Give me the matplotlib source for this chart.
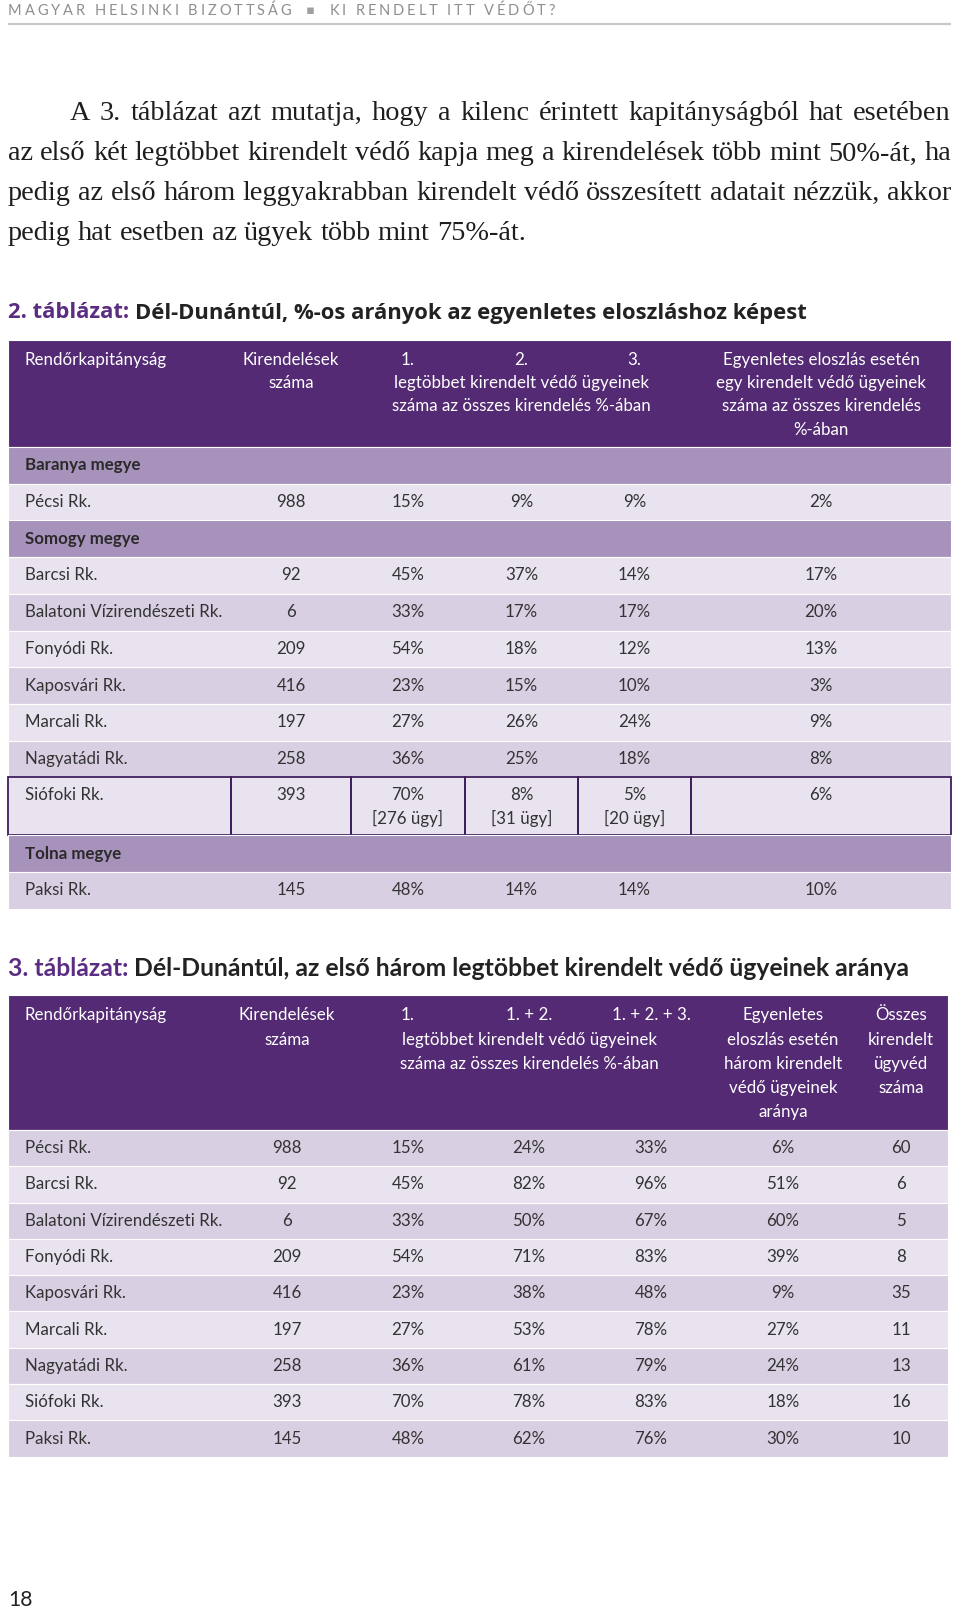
import matplotlib
matplotlib.use('Agg')
import matplotlib.pyplot as plt
from matplotlib.patches import Rectangle

# ---------------- data ----------------
header_left = "MAGYAR HELSINKI BIZOTTSÁG"
header_right = "KI RENDELT ITT VÉDŐT?"
paragraph = [
    "A 3. táblázat azt mutatja, hogy a kilenc érintett kapitányságból hat esetében",
    "az első két legtöbbet kirendelt védő kapja meg a kirendelések több mint 50%-át, ha",
    "pedig az első három leggyakrabban kirendelt védő összesített adatait nézzük, akkor",
    "pedig hat esetben az ügyek több mint 75%-át.",
]
t2_title_a = "2. táblázat:"
t2_title_b = " Dél-Dunántúl, %-os arányok az egyenletes eloszláshoz képest"
t3_title_a = "3. táblázat:"
t3_title_b = " Dél-Dunántúl, az első három legtöbbet kirendelt védő ügyeinek aránya"

stations = ['Pécsi Rk.', 'Barcsi Rk.', 'Balatoni Vízirendészeti Rk.', 'Fonyódi Rk.',
            'Kaposvári Rk.', 'Marcali Rk.', 'Nagyatádi Rk.', 'Siófoki Rk.', 'Paksi Rk.']
counties = {0: 'Baranya megye', 1: 'Somogy megye', 8: 'Tolna megye'}
assignments = [988, 92, 6, 209, 416, 197, 258, 393, 145]

t2_first = [15, 45, 33, 54, 23, 27, 36, 70, 48]
t2_second = [9, 37, 17, 18, 15, 26, 25, 8, 14]
t2_third = [9, 14, 17, 12, 10, 24, 18, 5, 14]
t2_equal = [2, 17, 20, 13, 3, 9, 8, 6, 10]
siofok_cases = ['[276 ügy]', '[31 ügy]', '[20 ügy]']

t3_first = [15, 45, 33, 54, 23, 27, 36, 70, 48]
t3_first2 = [24, 82, 50, 71, 38, 53, 61, 78, 62]
t3_first3 = [33, 96, 67, 83, 48, 78, 79, 83, 76]
t3_equal = [6, 51, 60, 39, 9, 27, 24, 18, 30]
t3_lawyers = [60, 6, 5, 8, 35, 11, 13, 16, 10]

# ---------------- styles ----------------
W, H = 960, 1611
HDR = '#532a73'
COUNTY = '#a692ba'
LIGHT = '#e9e3ef'
DARK = '#d8d0e2'
TXT = '#333333'
SANS = ['Lato', 'DejaVu Sans']

fig = plt.figure(figsize=(9.6, 16.11), dpi=100)
ax = fig.add_axes([0, 0, 1, 1])
ax.set_xlim(0, W)
ax.set_ylim(H, 0)
ax.axis('off')
renderer = fig.canvas.get_renderer()


def tw(s, size, family, weight='normal'):
    t = ax.text(0, 0, s, fontsize=size, family=family, weight=weight)
    w = t.get_window_extent(renderer).width
    t.remove()
    return w


def fit(s, family, target, weight='normal'):
    return 10 * target / tw(s, 10, family, weight)


# ---------------- page header ----------------
hsize = 10.5
hcol = '#8e8e8e'
sp_w = tw('I I', hsize, SANS) - tw('II', hsize, SANS)
widths = []
seq = list(header_left) + [' ', ' ', '▪', ' ', ' '] + list(header_right)
for c in seq:
    widths.append(sp_w if c == ' ' else tw(c, hsize, SANS))
track = (547 - sum(widths)) / (len(seq) - 1)
x = 8
for c, w in zip(seq, widths):
    if c != ' ':
        if c == '▪':
            ax.text(x + w / 2, 11, c, fontsize=hsize * 0.9, family=['DejaVu Sans'],
                    color='#a0a0a0', ha='center', va='center')
        else:
            ax.text(x, 11, c, fontsize=hsize, family=SANS, color=hcol, va='center')
    x += w + track
ax.plot([8, 951], [24, 24], color='#c8c8c8', lw=1.6, solid_capstyle='butt')

# ---------------- paragraph ----------------
SERIF = ['Liberation Serif', 'DejaVu Serif']
psize = fit(paragraph[3], SERIF, 517)
line_y = [113, 154, 193, 233]
line_x0 = [70, 8, 8, 8]
for i, line in enumerate(paragraph):
    words = line.split(' ')
    ws = [tw(w, psize, SERIF) for w in words]
    if i < 3:
        gap = (951 - line_x0[i] - sum(ws)) / (len(words) - 1)
    else:
        gap = tw('a a', psize, SERIF) - tw('aa', psize, SERIF)
    x = line_x0[i]
    for w, wd in zip(words, ws):
        ax.text(x, line_y[i], w, fontsize=psize, family=SERIF, color='#1e1e1e', va='center')
        x += wd + gap

# ---------------- titles ----------------
PURP_T = '#5a2d82'


def title(y, a, b, family, target):
    s = fit(a + b, family, target, 'bold')
    wa = tw(a, s, family, 'bold')
    ax.text(8, y, a, fontsize=s, family=family, weight='bold', color=PURP_T, va='center')
    sp = tw('a a', s, family, 'bold') - tw('aa', s, family, 'bold')
    ax.text(8 + wa + sp, y, b.strip(), fontsize=s, family=family, weight='bold',
            color='#222222', va='center')


title(313, t2_title_a, t2_title_b, ['Open Sans', 'DejaVu Sans'], 798)
title(968, t3_title_a, t3_title_b, SANS, 905)

# ---------------- table font ----------------
fs = fit('Balatoni Vízirendészeti Rk.', SANS, 197)


def cell(x, y, s, ha='center', color=TXT, weight='normal'):
    ax.text(x, y, s, fontsize=fs, family=SANS, color=color, ha=ha, va='center',
            weight=weight)


def band(y0, h, color, x0=8, x1=951):
    ax.add_patch(Rectangle((x0, y0), x1 - x0, h, facecolor=color, edgecolor='white',
                           lw=0.8))


# ---------------- table 2 ----------------
t2_bounds = [8, 231, 351, 465, 578, 691, 951]
t2_cx = [(t2_bounds[i] + t2_bounds[i + 1]) / 2 for i in range(6)]
top = 340
band(top, 107, HDR)
hy = [360, 383, 406, 430]
cell(25, hy[0], 'Rendőrkapitányság', ha='left', color='white')
cell(t2_cx[1], hy[0], 'Kirendelések', color='white')
cell(t2_cx[1], hy[1], 'száma', color='white')
cell(t2_cx[2], hy[0], '1.', color='white')
cell(t2_cx[3], hy[0], '2.', color='white')
cell(t2_cx[4], hy[0], '3.', color='white')
cell(t2_cx[3], hy[1], 'legtöbbet kirendelt védő ügyeinek', color='white')
cell(t2_cx[3], hy[2], 'száma az összes kirendelés %-ában', color='white')
for k, s in enumerate(['Egyenletes eloszlás esetén', 'egy kirendelt védő ügyeinek',
                       'száma az összes kirendelés', '%-ában']):
    cell(t2_cx[5], hy[k], s, color='white')

rh = 36.7
shade2 = [LIGHT, LIGHT, DARK, LIGHT, DARK, LIGHT, DARK, LIGHT, DARK]
y = 447
for i, name in enumerate(stations):
    if i in counties:
        band(y, rh, COUNTY)
        cell(25, y + rh / 2, counties[i], ha='left', weight='bold', color='#2a2a2a')
        y += rh
    h = 58 if name == 'Siófoki Rk.' else rh
    band(y, h, shade2[i])
    ty = y + rh / 2 if h == rh else y + 18
    vals = [name, str(assignments[i]), f'{t2_first[i]}%', f'{t2_second[i]}%',
            f'{t2_third[i]}%', f'{t2_equal[i]}%']
    cell(25, ty, vals[0], ha='left')
    for c in range(1, 6):
        cell(t2_cx[c], ty, vals[c])
    if h != rh:
        for c in range(3):
            cell(t2_cx[2 + c], ty + 23, siofok_cases[c])
        for c in range(6):
            ax.add_patch(Rectangle((t2_bounds[c], y), t2_bounds[c + 1] - t2_bounds[c], h,
                                   facecolor='none', edgecolor='#3d1f5c', lw=1.3))
    y += h

# ---------------- table 3 ----------------
t3_cx = [25, 287, 408, 529, 651, 783, 901]
top3 = 995
band(top3, 135, HDR, x1=948)
hy3 = [1015, 1040, 1064, 1088, 1112]
cell(25, hy3[0], 'Rendőrkapitányság', ha='left', color='white')
cell(t3_cx[1], hy3[0], 'Kirendelések', color='white')
cell(t3_cx[1], hy3[1], 'száma', color='white')
cell(t3_cx[2], hy3[0], '1.', color='white')
cell(t3_cx[3], hy3[0], '1. + 2.', color='white')
cell(t3_cx[4], hy3[0], '1. + 2. + 3.', color='white')
cell(t3_cx[3], hy3[1], 'legtöbbet kirendelt védő ügyeinek', color='white')
cell(t3_cx[3], hy3[2], 'száma az összes kirendelés %-ában', color='white')
for k, s in enumerate(['Egyenletes', 'eloszlás esetén', 'három kirendelt',
                       'védő ügyeinek', 'aránya']):
    cell(t3_cx[5], hy3[k], s, color='white')
for k, s in enumerate(['Összes', 'kirendelt', 'ügyvéd', 'száma']):
    cell(t3_cx[6], hy3[k], s, color='white')

rh3 = 36.3
y = 1130
for i, name in enumerate(stations):
    band(y, rh3, DARK if i % 2 == 0 else LIGHT, x1=948)
    vals = [name, str(assignments[i]), f'{t3_first[i]}%', f'{t3_first2[i]}%',
            f'{t3_first3[i]}%', f'{t3_equal[i]}%', str(t3_lawyers[i])]
    cell(25, y + rh3 / 2, vals[0], ha='left')
    for c in range(1, 7):
        cell(t3_cx[c], y + rh3 / 2, vals[c])
    y += rh3

# ---------------- page number ----------------
ax.text(8, 1600, '18', fontsize=fs * 1.25, family=SANS, color='#222222', va='center')

fig.savefig('out.png', dpi=100)
